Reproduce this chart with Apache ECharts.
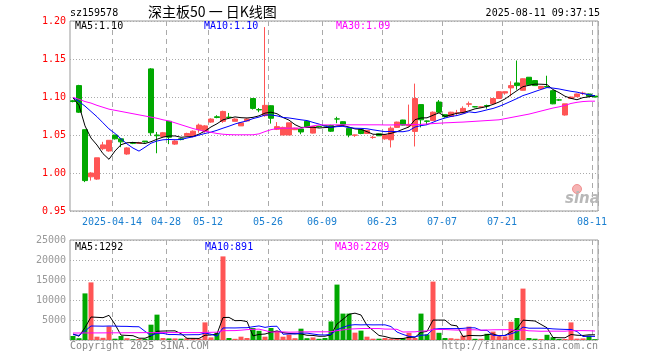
<!DOCTYPE html>
<html>
<head>
<meta charset="utf-8">
<script src="https://cdn.jsdelivr.net/npm/echarts@6/dist/echarts.min.js"></script>
<style>
html,body{margin:0;padding:0;background:#fff;}
#c{width:660px;height:360px;}
</style>
</head>
<body>
<div id="c"></div>
<script>
const dates = ['2025-04-02','2025-04-03','2025-04-07','2025-04-08','2025-04-09','2025-04-10','2025-04-11','2025-04-14','2025-04-15','2025-04-16',
'2025-04-17','2025-04-18','2025-04-21','2025-04-22','2025-04-23','2025-04-24','2025-04-28','2025-04-29','2025-04-30','2025-05-06',
'2025-05-07','2025-05-08','2025-05-09','2025-05-12','2025-05-13','2025-05-14','2025-05-15','2025-05-16','2025-05-19','2025-05-20',
'2025-05-21','2025-05-22','2025-05-23','2025-05-26','2025-05-27','2025-05-28','2025-05-29','2025-05-30','2025-06-03','2025-06-04',
'2025-06-05','2025-06-06','2025-06-09','2025-06-10','2025-06-11','2025-06-12','2025-06-13','2025-06-16','2025-06-17','2025-06-18',
'2025-06-19','2025-06-20','2025-06-23','2025-06-24','2025-06-25','2025-06-26','2025-06-27','2025-06-30','2025-07-01','2025-07-02',
'2025-07-03','2025-07-04','2025-07-07','2025-07-08','2025-07-09','2025-07-10','2025-07-11','2025-07-14','2025-07-15','2025-07-16',
'2025-07-17','2025-07-18','2025-07-21','2025-07-22','2025-07-23','2025-07-24','2025-07-25','2025-07-28','2025-07-29','2025-07-30',
'2025-07-31','2025-08-01','2025-08-04','2025-08-05','2025-08-06','2025-08-07','2025-08-08','2025-08-11'];

const tickDates = ['2025-04-14','2025-04-28','2025-05-12','2025-05-26','2025-06-09','2025-06-23','2025-07-07','2025-07-21','2025-08-11'];

const open = [1.095,1.115,1.057,0.995,0.992,1.032,1.029,1.050,1.045,1.025,
1.040,1.039,1.042,1.137,1.050,1.048,1.068,1.038,1.045,1.049,
1.048,1.057,1.055,1.067,1.074,1.068,1.0735,1.068,1.062,1.0685,
1.098,1.0835,1.0755,1.0885,1.0575,1.050,1.050,1.057,1.058,1.068,
1.0525,1.0615,1.0625,1.0625,1.0712,1.0675,1.0587,1.0498,1.057,1.052,
1.0468,1.0516,1.045,1.0437,1.060,1.0697,1.062,1.0547,1.090,1.0685,
1.069,1.0934,1.0767,1.0745,1.0788,1.079,1.0905,1.0872,1.0868,1.0888,
1.0912,1.098,1.1052,1.112,1.1185,1.1088,1.126,1.1216,1.111,1.1138,
1.1083,1.0962,1.0763,1.098,1.1004,1.1048,1.104,1.1012];

const close = [1.094,1.080,0.990,1.000,1.020,1.037,1.043,1.045,1.041,1.033,
1.039,1.040,1.041,1.053,1.049,1.053,1.047,1.042,1.044,1.052,
1.055,1.063,1.062,1.071,1.073,1.081,1.073,1.071,1.066,1.071,
1.085,1.083,1.089,1.072,1.061,1.060,1.066,1.059,1.054,1.061,
1.061,1.061,1.062,1.055,1.071,1.064,1.050,1.050,1.052,1.056,
1.047,1.049,1.050,1.059,1.067,1.063,1.064,1.098,1.070,1.068,
1.080,1.080,1.074,1.080,1.079,1.085,1.091,1.087,1.087,1.088,
1.098,1.107,1.107,1.115,1.115,1.124,1.116,1.115,1.114,1.113,
1.091,1.096,1.091,1.100,1.104,1.105,1.101,1.100];

const low = [1.093,1.079,0.988,0.990,0.991,1.030,1.028,1.044,1.034,1.024,
1.038,1.039,1.040,1.049,1.026,1.047,1.038,1.037,1.043,1.049,
1.047,1.053,1.053,1.066,1.072,1.066,1.0715,1.068,1.062,1.068,
1.0835,1.080,1.074,1.065,1.0565,1.050,1.050,1.0565,1.051,1.060,
1.052,1.060,1.0615,1.054,1.0655,1.0635,1.047,1.0475,1.051,1.0515,
1.045,1.0488,1.0438,1.0336,1.0595,1.0625,1.061,1.0349,1.060,1.0635,
1.069,1.0795,1.073,1.0745,1.0755,1.0785,1.087,1.0865,1.0865,1.0846,
1.091,1.0975,1.103,1.1009,1.1097,1.1085,1.116,1.1145,1.1105,1.1125,
1.0905,1.095,1.0755,1.0975,1.100,1.1025,1.100,1.0995];

const high = [1.096,1.116,1.057,1.001,1.020,1.041,1.043,1.050,1.045,1.034,
1.041,1.041,1.042,1.138,1.054,1.054,1.068,1.043,1.046,1.053,
1.056,1.065,1.063,1.072,1.076,1.082,1.079,1.072,1.066,1.072,
1.098,1.0855,1.192,1.089,1.067,1.061,1.066,1.0595,1.058,1.0695,
1.0615,1.062,1.063,1.0635,1.074,1.068,1.059,1.0505,1.057,1.056,
1.049,1.052,1.0505,1.0613,1.0675,1.070,1.090,1.1176,1.090,1.069,
1.081,1.096,1.077,1.0805,1.083,1.0877,1.094,1.0875,1.0875,1.090,
1.098,1.1078,1.1072,1.1207,1.148,1.1245,1.1263,1.122,1.1145,1.128,
1.109,1.0975,1.091,1.1005,1.1045,1.107,1.1045,1.1015];

const ma5 = [1.099,1.089,1.062,1.046,1.0368,1.0254,1.018,1.029,1.0372,1.0398,
1.0402,1.0396,1.0388,1.0412,1.0444,1.0472,1.0486,1.0488,1.047,1.0476,
1.048,1.0512,1.0552,1.0606,1.0648,1.070,1.072,1.0738,1.0728,1.0724,
1.0732,1.0752,1.0788,1.080,1.078,1.073,1.0696,1.0636,1.060,1.060,
1.0602,1.0592,1.0598,1.060,1.062,1.0626,1.0604,1.058,1.0574,1.0544,
1.051,1.0508,1.0508,1.0522,1.0544,1.0576,1.0606,1.0702,1.0724,1.0726,
1.076,1.0792,1.0744,1.0764,1.0786,1.0796,1.0818,1.0844,1.0858,1.0876,
1.0902,1.0934,1.0974,1.103,1.1084,1.1136,1.1154,1.117,1.1168,1.1164,
1.1098,1.1058,1.101,1.0982,1.0964,1.0992,1.1002,1.102];

const ma10 = [1.0995,1.094,1.088,1.081,1.074,1.066,1.058,1.052,1.045,1.0383,
1.0328,1.0288,1.0339,1.0392,1.0421,1.0437,1.0441,1.0438,1.0441,1.046,
1.0476,1.0499,1.052,1.0538,1.0562,1.059,1.0616,1.0645,1.0667,1.0686,
1.0716,1.0736,1.0763,1.0764,1.0752,1.0731,1.0724,1.0712,1.070,1.069,
1.0666,1.0644,1.0617,1.060,1.061,1.0614,1.0598,1.0589,1.0587,1.0582,
1.0568,1.0556,1.0544,1.0548,1.0544,1.0543,1.0557,1.0605,1.0623,1.0635,
1.0668,1.0699,1.0723,1.0744,1.0756,1.0778,1.0805,1.0794,1.0811,1.0831,
1.0849,1.0876,1.0909,1.0944,1.098,1.1019,1.1044,1.1072,1.1099,1.1124,
1.1117,1.1106,1.109,1.1075,1.1064,1.1045,1.103,1.1015];

const ma30 = [1.0995,1.097,1.094,1.092,1.089,1.0865,1.084,1.0825,1.081,1.0795,
1.078,1.0765,1.075,1.0735,1.072,1.070,1.0685,1.066,1.0635,1.061,
1.0585,1.0565,1.055,1.0535,1.052,1.051,1.0505,1.0503,1.0503,1.0503,
1.0503,1.0515,1.0545,1.057,1.0585,1.059,1.059,1.059,1.059,1.0605,
1.062,1.0632,1.0633,1.0633,1.0634,1.0634,1.0634,1.0634,1.0634,1.0634,
1.0634,1.0634,1.0632,1.0632,1.0634,1.0634,1.0635,1.0638,1.064,1.0645,
1.065,1.0655,1.066,1.0663,1.0667,1.067,1.0675,1.068,1.0685,1.069,
1.0695,1.070,1.0715,1.073,1.0745,1.076,1.0775,1.0795,1.0815,1.0835,
1.0855,1.087,1.089,1.0915,1.093,1.094,1.0945,1.0945];

const volume = [1000,450,11650,14400,830,550,3400,330,1000,450,
200,250,300,3830,6340,500,400,400,330,450,
450,330,4400,650,1800,20900,500,300,830,500,
3000,2300,830,3000,2200,830,1330,450,2830,450,
650,300,500,4640,13850,6600,6600,1840,2340,830,
330,330,500,330,300,450,1800,500,6600,1400,
14600,1800,500,450,300,1100,3340,300,300,1550,
2100,950,900,4550,5500,12850,500,330,250,1300,
700,250,250,4400,350,400,1100,210];

const vma5 = [1500,950,3100,5750,5670,5580,6170,3900,1220,1150,
1080,450,440,1010,2180,2240,2270,2290,1590,420,
410,390,1190,1260,1530,5620,5650,4830,4870,4610,
1030,1390,1490,1930,2270,1830,1640,1560,1530,1180,
1140,940,950,1310,3990,5180,6440,6710,6250,3640,
2390,1130,870,460,360,380,680,680,1930,2150,
4980,4980,4980,3750,3530,830,1140,1100,1070,1320,
1520,1040,1160,2010,2800,4950,4860,4750,3890,3050,
620,570,550,1380,1190,1130,1300,1292];

const vma10 = [1340,1150,2250,3500,3480,3450,3500,3470,3420,3410,
3330,3310,2170,1110,1670,1660,1360,1370,1300,1300,
1330,1330,1740,1430,970,3010,3020,3010,3060,3070,
3320,3520,3160,3400,3440,1430,1510,1530,1730,1720,
1490,1290,1250,1420,2580,3160,3690,3830,3780,3820,
3780,3790,3790,3360,2000,1390,910,770,1200,1250,
2680,2830,2830,2840,2840,2910,3060,3040,2410,2420,
1170,1090,1130,1540,2060,3230,2950,2950,2950,2920,
2780,2710,2650,2630,2120,870,930,891];

const vma30 = [1750,1750,1760,1770,1770,1780,1790,1800,1800,1810,
1820,1830,1840,1840,1850,1850,1850,1850,1850,1850,
1850,1850,1900,1920,1950,2330,2340,2350,2450,2590,
2660,2720,2360,1980,2020,2030,1960,1970,2030,2030,
2040,2050,2050,2080,2330,2530,2740,2790,2860,2870,
2860,2860,2730,2720,2670,1990,2030,2040,2230,2260,
2650,2630,2620,2540,2470,2480,2550,2550,2460,2500,
2550,2570,2580,2580,2300,2510,2300,2250,2180,2200,
2210,2210,2200,2340,2350,2340,2320,2250];

const UP = '#ff5555', DOWN = '#00a800';
const MONO = '"DejaVu Sans Mono", "Liberation Mono", monospace';
const tickIdx = tickDates.map(d => dates.indexOf(d));
const isTick = (i) => tickIdx.indexOf(i) >= 0;

const chart = echarts.init(document.getElementById('c'));

const splitX = { show: true, interval: (i) => isTick(i), lineStyle: { color: '#aaa', type: [5, 4], width: 1 } };
const splitY = { show: true, lineStyle: { color: '#aaa', type: [1, 2], width: 1 } };

function txt(text, x, y, fill, align, font) {
  return { type: 'text', silent: true, z: 100,
    style: { text: text, x: x, y: y, fill: fill, align: align || 'left', verticalAlign: 'middle',
      font: font || ('10px ' + MONO) } };
}

chart.setOption({
  animation: false,
  backgroundColor: '#fff',
  grid: [
    { left: 70, top: 21, width: 528, height: 190, show: true, borderColor: '#999', borderWidth: 1, backgroundColor: 'transparent' },
    { left: 70, top: 240, width: 528, height: 100, show: true, borderColor: '#999', borderWidth: 1, backgroundColor: 'transparent' }
  ],
  xAxis: [
    { type: 'category', gridIndex: 0, data: dates, boundaryGap: true,
      axisLine: { show: false }, axisTick: { show: false },
      axisLabel: { interval: (i) => isTick(i), hideOverlap: false,
        formatter: (v, i) => (i === tickIdx[0] ? v : v.slice(5)),
        color: '#1a7fd0', fontFamily: MONO, fontSize: 10, margin: 6, padding: [0, 6, 0, 0] },
      splitLine: splitX },
    { type: 'category', gridIndex: 1, data: dates, boundaryGap: true,
      axisLine: { show: false }, axisTick: { show: false }, axisLabel: { show: false },
      splitLine: splitX }
  ],
  yAxis: [
    { type: 'value', gridIndex: 0, min: 0.95, max: 1.20, interval: 0.05, scale: true,
      axisLine: { show: false }, axisTick: { show: false },
      axisLabel: { color: '#ff0000', fontFamily: MONO, fontSize: 10, margin: 4, formatter: (v) => v.toFixed(2) },
      splitLine: splitY },
    { type: 'value', gridIndex: 1, min: 0, max: 25000, interval: 5000,
      axisLine: { show: false }, axisTick: { show: false },
      axisLabel: { color: '#999', fontFamily: MONO, fontSize: 10, margin: 4, formatter: (v) => (v === 0 ? '' : String(v)) },
      splitLine: splitY }
  ],
  series: [
    { type: 'candlestick', xAxisIndex: 0, yAxisIndex: 0, barWidth: 5, z: 2,
      data: dates.map((d, i) => [open[i], close[i], low[i], high[i]]),
      itemStyle: { color: UP, color0: DOWN, borderColor: UP, borderColor0: DOWN, borderWidth: 1 } },
    { type: 'line', xAxisIndex: 0, yAxisIndex: 0, data: ma5, symbol: 'none', z: 3, lineStyle: { color: '#000', width: 1 } },
    { type: 'line', xAxisIndex: 0, yAxisIndex: 0, data: ma10, symbol: 'none', z: 3, lineStyle: { color: '#0000ff', width: 1 } },
    { type: 'line', xAxisIndex: 0, yAxisIndex: 0, data: ma30, symbol: 'none', z: 3, lineStyle: { color: '#ff00ff', width: 1 } },
    { type: 'bar', xAxisIndex: 1, yAxisIndex: 1, barWidth: 5, z: 2,
      data: volume.map((v, i) => ({ value: v, itemStyle: { color: close[i] >= open[i] ? UP : DOWN } })) },
    { type: 'line', xAxisIndex: 1, yAxisIndex: 1, data: vma5, symbol: 'none', z: 3, lineStyle: { color: '#000', width: 1 } },
    { type: 'line', xAxisIndex: 1, yAxisIndex: 1, data: vma10, symbol: 'none', z: 3, lineStyle: { color: '#0000ff', width: 1 } },
    { type: 'line', xAxisIndex: 1, yAxisIndex: 1, data: vma30, symbol: 'none', z: 3, lineStyle: { color: '#ff00ff', width: 1 } }
  ],
  graphic: [
    txt('sz159578', 70, 13.5, '#000'),
    txt('深主板50 一 日K线图', 148, 12, '#000', 'left', '14px "Noto Sans CJK SC", sans-serif'),
    txt('2025-08-11 09:37:15', 600, 13, '#000', 'right'),
    txt('MA5:1.10', 75, 26, '#000'),
    txt('MA10:1.10', 204, 26, '#0000ff'),
    txt('MA30:1.09', 336, 26, '#ff00ff'),
    txt('MA5:1292', 75, 247, '#000'),
    txt('MA10:891', 205, 247, '#0000ff'),
    txt('MA30:2209', 335, 247, '#ff00ff'),
    txt('Copyright 2025 SINA.COM', 70, 346, '#888'),
    txt('http://finance.sina.com.cn', 598, 346, '#888', 'right'),
    { type: 'circle', silent: true, z: 1, shape: { cx: 577, cy: 189, r: 4.5 },
      style: { fill: '#f6b3b3', stroke: '#f09090', lineWidth: 1 } },
    txt('sina', 565, 199, '#b8b8b8', 'left', 'italic bold 15px "DejaVu Sans", sans-serif')
  ]
});
</script>
</body>
</html>
